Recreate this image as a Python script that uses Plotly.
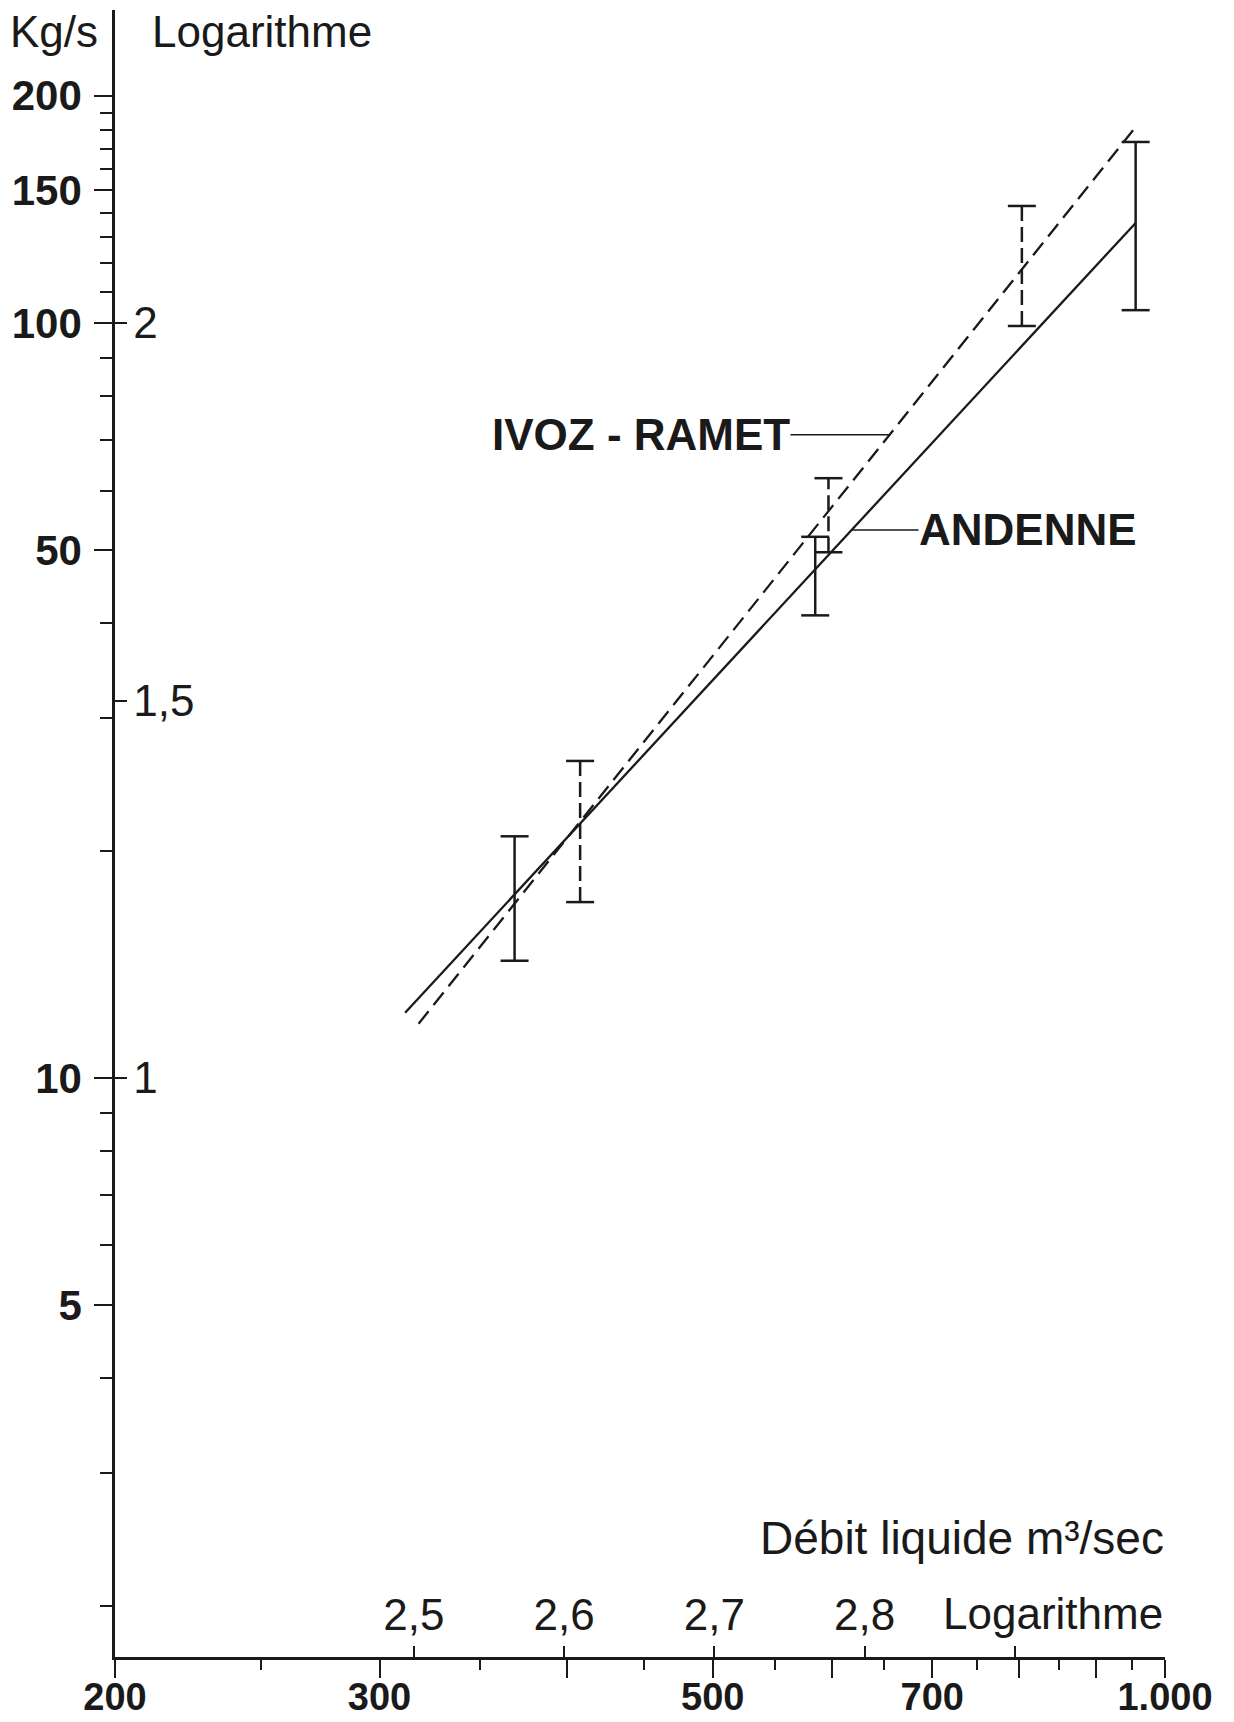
import math
import plotly.graph_objects as go

# ---------------- data ----------------
# fitted regression lines (discharge m3/s -> sediment load kg/s)
andenne_fit_q = [312, 956]
andenne_fit_kg = [12.2, 135.7]
ivoz_fit_q = [318.5, 956]
ivoz_fit_kg = [11.8, 181.8]

# error bars (ranges)
andenne_q = [369, 585, 956]
andenne_lo = [14.3, 41.0, 104.0]
andenne_hi = [20.9, 52.1, 173.7]

ivoz_q = [408, 597, 803]
ivoz_lo = [17.1, 49.7, 99.1]
ivoz_hi = [26.3, 62.3, 142.9]

# points where the label leader lines touch the fitted lines
ivoz_label_q, ivoz_label_kg = 655, 71.1
andenne_label_q, andenne_label_kg = 619, 53.2

# tick values / labels
x_major = [200, 300, 400, 500, 600, 700, 800, 900, 1000]
x_major_text = ["200", "300", "", "500", "", "700", "", "", "1.000"]
x_minor = [250, 350, 450, 550, 650, 750, 850, 950]
x_log_ticks = [2.5, 2.6, 2.7, 2.8, 2.9]
x_log_text = ["2,5", "2,6", "2,7", "2,8", ""]

y_major = [5, 10, 50, 100, 150, 200]
y_major_text = ["5", "10", "50", "100", "150", "200"]
y_minor = [2, 3, 4, 6, 7, 8, 9, 20, 30, 40, 60, 70, 80, 90,
           110, 120, 130, 140, 160, 170, 180, 190]
y_log_ticks = [1, 1.5, 2]
y_log_text = ["1", "1,5", "2"]

X_RANGE = [math.log10(200), 3.0]
Y_RANGE = [0.2331, 2.4146]

# ---------------- styling ----------------
FONT = "Liberation Sans, Arial, sans-serif"
INK = "#1a1a1a"
OFF = 8                       # default page (body) margin of the html page
W, H = 1234 - OFF, 1722 - OFF
ML, MR, MT, MB = 115 - OFF, 69, 10 - OFF, 65
PW, PH = W - ML - MR, H - MT - MB


def px_to_paper(px, py):
    px, py = px - OFF, py - OFF
    return (px - ML) / PW, (H - MB - py) / PH


def segments(q, lo, hi):
    xs, ys = [], []
    for a, b, c in zip(q, lo, hi):
        xs += [a, a, None]
        ys += [b, c, None]
    return xs, ys


fig = go.Figure()

# fitted lines
fig.add_trace(go.Scatter(x=andenne_fit_q, y=andenne_fit_kg, mode="lines",
                         line=dict(color=INK, width=2.3), name="ANDENNE",
                         hoverinfo="skip"))
fig.add_trace(go.Scatter(x=ivoz_fit_q, y=ivoz_fit_kg, mode="lines",
                         line=dict(color=INK, width=2.3, dash="16px,8px"),
                         name="IVOZ-RAMET", hoverinfo="skip"))

# error bars: vertical stems
ax_, ay_ = segments(andenne_q, andenne_lo, andenne_hi)
fig.add_trace(go.Scatter(x=ax_, y=ay_, mode="lines",
                         line=dict(color=INK, width=2.5),
                         hoverinfo="skip"))
ix_, iy_ = segments(ivoz_q, ivoz_lo, ivoz_hi)
fig.add_trace(go.Scatter(x=ix_, y=iy_, mode="lines",
                         line=dict(color=INK, width=2.5, dash="15px,6px"),
                         hoverinfo="skip"))

# error bar caps
cap = dict(symbol="line-ew", size=20, line=dict(color=INK, width=2.5))
fig.add_trace(go.Scatter(x=andenne_q + andenne_q, y=andenne_lo + andenne_hi,
                         mode="markers", marker=cap, hoverinfo="skip"))
fig.add_trace(go.Scatter(x=ivoz_q + ivoz_q, y=ivoz_lo + ivoz_hi,
                         mode="markers", marker=cap, hoverinfo="skip"))

# empty trace that hosts the logarithm (secondary) axes
fig.add_trace(go.Scatter(x=[], y=[], xaxis="x2", yaxis="y2",
                         hoverinfo="skip"))

num_font = dict(family=FONT, size=42, color=INK, weight="bold")
xnum_font = dict(family=FONT, size=38, color=INK, weight="bold")
log_font = dict(family=FONT, size=44, color=INK)

fig.update_layout(
    width=W, height=H, autosize=False,
    margin=dict(l=ML, r=MR, t=MT, b=MB, pad=0),
    paper_bgcolor="white", plot_bgcolor="white",
    showlegend=False,
    xaxis=dict(type="log", range=X_RANGE, showgrid=False, zeroline=False,
               automargin=False,
               showline=True, linecolor=INK, linewidth=2.5,
               ticks="outside", tickvals=x_major, ticktext=x_major_text,
               ticklen=18, tickwidth=2, tickcolor=INK,
               tickfont=xnum_font, ticklabelstandoff=-13,
               minor=dict(tickvals=x_minor, ticks="outside", ticklen=10,
                          tickwidth=2, tickcolor=INK, showgrid=False)),
    yaxis=dict(type="log", range=Y_RANGE, showgrid=False, zeroline=False,
               automargin=False,
               showline=True, linecolor=INK, linewidth=2.5,
               ticks="outside", tickvals=y_major, ticktext=y_major_text,
               ticklen=18, tickwidth=2, tickcolor=INK,
               tickfont=num_font, ticklabelstandoff=4,
               minor=dict(tickvals=y_minor, ticks="outside", ticklen=12,
                          tickwidth=2, tickcolor=INK, showgrid=False)),
    xaxis2=dict(overlaying="x", anchor="y2", side="bottom", range=X_RANGE,
                automargin=False,
                showgrid=False, zeroline=False, showline=False,
                ticks="inside", ticklabelposition="inside",
                tickvals=x_log_ticks, ticktext=x_log_text,
                ticklen=11, tickwidth=2, tickcolor=INK,
                tickfont=log_font, ticklabelstandoff=13),
    yaxis2=dict(overlaying="y", anchor="x2", side="left", range=Y_RANGE,
                automargin=False,
                showgrid=False, zeroline=False, showline=False,
                ticks="inside", ticklabelposition="inside",
                tickvals=y_log_ticks, ticktext=y_log_text,
                ticklen=12, tickwidth=2, tickcolor=INK,
                tickfont=log_font, ticklabelstandoff=12),
)

# axis titles and series labels (positions in reference page pixels)
texts = [
    ("Kg/s", 54, 32, 44),
    ("Logarithme", 262, 32, 44),
    ("Débit liquide m³/sec", 962, 1538, 46),
    ("Logarithme", 1053, 1613, 44),
]
for t, px, py, sz in texts:
    fx, fy = px_to_paper(px, py)
    fig.add_annotation(text=t, x=fx, y=fy, xref="paper", yref="paper",
                       xanchor="center", yanchor="middle", showarrow=False,
                       font=dict(family=FONT, size=sz, color=INK))

label_font = dict(family=FONT, size=44, color=INK, weight="bold")
fig.add_annotation(text="IVOZ - RAMET",
                   x=math.log10(ivoz_label_q), y=math.log10(ivoz_label_kg),
                   xref="x", yref="y", showarrow=True, arrowhead=0,
                   arrowwidth=1.5, arrowcolor=INK, ax=-248, ay=0,
                   font=label_font, borderpad=0)
fig.add_annotation(text="ANDENNE",
                   x=math.log10(andenne_label_q), y=math.log10(andenne_label_kg),
                   xref="x", yref="y", showarrow=True, arrowhead=0,
                   arrowwidth=1.5, arrowcolor=INK, ax=176, ay=0,
                   font=label_font, borderpad=0)

fig.write_html("out.html")
